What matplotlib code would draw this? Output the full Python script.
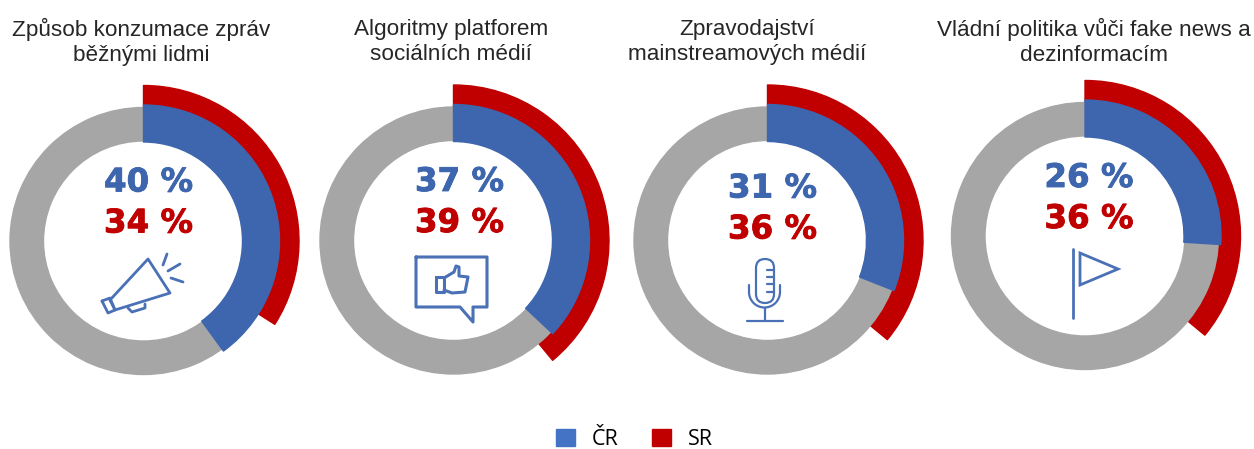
"""Four donut charts comparing CR and SR shares, with title, percentages and icon."""

import matplotlib
matplotlib.use("Agg")
import matplotlib.pyplot as plt
import matplotlib.patheffects as pe
from matplotlib.patches import Arc, FancyBboxPatch, Patch, Polygon

titles = [
    "Způsob konzumace zpráv\nběžnými lidmi",
    "Algoritmy platforem\nsociálních médií",
    "Zpravodajství\nmainstreamových médií",
    "Vládní politika vůči fake news a\ndezinformacím",
]
cr_values = [40, 37, 31, 26]
sr_values = [34, 39, 36, 36]
series_names = ["ČR", "SR"]

BLUE = "#3D66AE"
RED = "#C00000"
GRAY = "#A6A6A6"
ICON = "#4A70B5"
H = 449

centers_x = [143.5, 453.5, 767.5, 1085]
centers_y = [241, 240.5, 240.5, 236]
title_x = [141, 451, 747, 1094]
pct_x = [148.5, 459.5, 772.5, 1089]
pct_y = [183, 182.5, 189, 178.5]


def line(ax, pts, close=False, lw=2.0):
    """Draw an icon stroke from image pixel coordinates (y down)."""
    if close:
        pts = pts + [pts[0]]
    ax.plot([p[0] for p in pts], [H - p[1] for p in pts], color=ICON, lw=lw,
            solid_joinstyle="round", solid_capstyle="round")


def megaphone(ax):
    line(ax, [(110, 300), (148, 259), (170, 293), (115, 310)], close=True)
    line(ax, [(102, 301), (110, 298), (115, 310), (108, 313)], close=True)
    line(ax, [(128, 308), (132, 312), (145, 308), (145, 304)])
    line(ax, [(167, 254), (163, 265)])
    line(ax, [(180, 264), (168, 271)])
    line(ax, [(183, 282), (171, 278)])


def thumbs_up(ax):
    line(ax, [(416, 257), (487, 257), (487, 307), (473, 307), (473, 322), (460, 307), (416, 307)],
         close=True, lw=2.2)
    line(ax, [(436, 277), (444, 277), (444, 292), (436, 292)], close=True, lw=2.2)
    line(ax, [(444, 278), (454, 272), (456, 266), (459, 267), (459, 276), (468, 277),
              (465, 292), (452, 293), (444, 290)], lw=2.2)


def microphone(ax):
    ax.add_patch(FancyBboxPatch((765, H - 303 + 9), 0, 44 - 18,
                                boxstyle="round,pad=9,rounding_size=9",
                                fc="none", ec=ICON, lw=1.6))
    line(ax, [(749, 285), (749, 292)], lw=1.6)
    line(ax, [(780, 285), (780, 292)], lw=1.6)
    ax.add_patch(Arc((764.5, H - 292), 31, 31, theta1=180, theta2=360, ec=ICON, lw=1.6))
    line(ax, [(765, 308), (765, 321)], lw=1.6)
    line(ax, [(747, 321), (783, 321)], lw=1.6)
    for y in [270, 277, 284, 292]:
        line(ax, [(767, y), (773, y)], lw=1.6)


def flag(ax):
    line(ax, [(1073, 249), (1073, 318)])
    ax.add_patch(Polygon([(1080, H - 253), (1118, H - 269), (1080, H - 285)],
                         closed=True, fc="none", ec=ICON, lw=2.0))


def draw_ring(ax, cx, cy, value, color, radius, width):
    wedges, _ = ax.pie([value, 100 - value], colors=[color, "white"], startangle=90,
                       counterclock=False, center=(cx, H - cy), radius=radius,
                       wedgeprops={"width": width, "linewidth": 1, "joinstyle": "round"})
    wedges[0].set_edgecolor(color)
    wedges[1].set_visible(False)


fig = plt.figure(figsize=(12.54, 4.49), dpi=100)
ax = fig.add_axes([0, 0, 1, 1])

for i, cx in enumerate(centers_x):
    cy = centers_y[i]
    draw_ring(ax, cx, cy, sr_values[i], RED, 155.5, 25)
    draw_ring(ax, cx, cy, 100, GRAY, 133.5, 33.5)
    draw_ring(ax, cx, cy, cr_values[i], BLUE, 136, 37)

    ax.text(title_x[i], H - 42, titles[i], ha="center", va="center", fontsize=16.2,
            family="Liberation Sans", color="#262626", linespacing=1.2)
    for value, color, dy in [(cr_values[i], BLUE, 0), (sr_values[i], RED, 41)]:
        ax.text(pct_x[i], H - pct_y[i] - dy, f"{value} %", ha="center", va="center",
                fontsize=23.4, fontweight="bold", family="DejaVu Sans", color=color,
                path_effects=[pe.withStroke(linewidth=0.6, foreground=color)])

megaphone(ax)
thumbs_up(ax)
microphone(ax)
flag(ax)

ax.set_xlim(0, 1254)
ax.set_ylim(0, H)
ax.set_aspect("equal")
ax.axis("off")

handles = [Patch(color="#4472C4", label=series_names[0]), Patch(color=RED, label=series_names[1])]
ax.legend(handles=handles, ncol=2, frameon=False, loc="center", bbox_to_anchor=(634.2 / 1254, 1 - 439.5 / H),
          prop={"family": "Open Sans", "size": 15.5}, handlelength=0.88, handleheight=0.82,
          handletextpad=0.78, columnspacing=1.55)

fig.savefig("out.png", dpi=100)
